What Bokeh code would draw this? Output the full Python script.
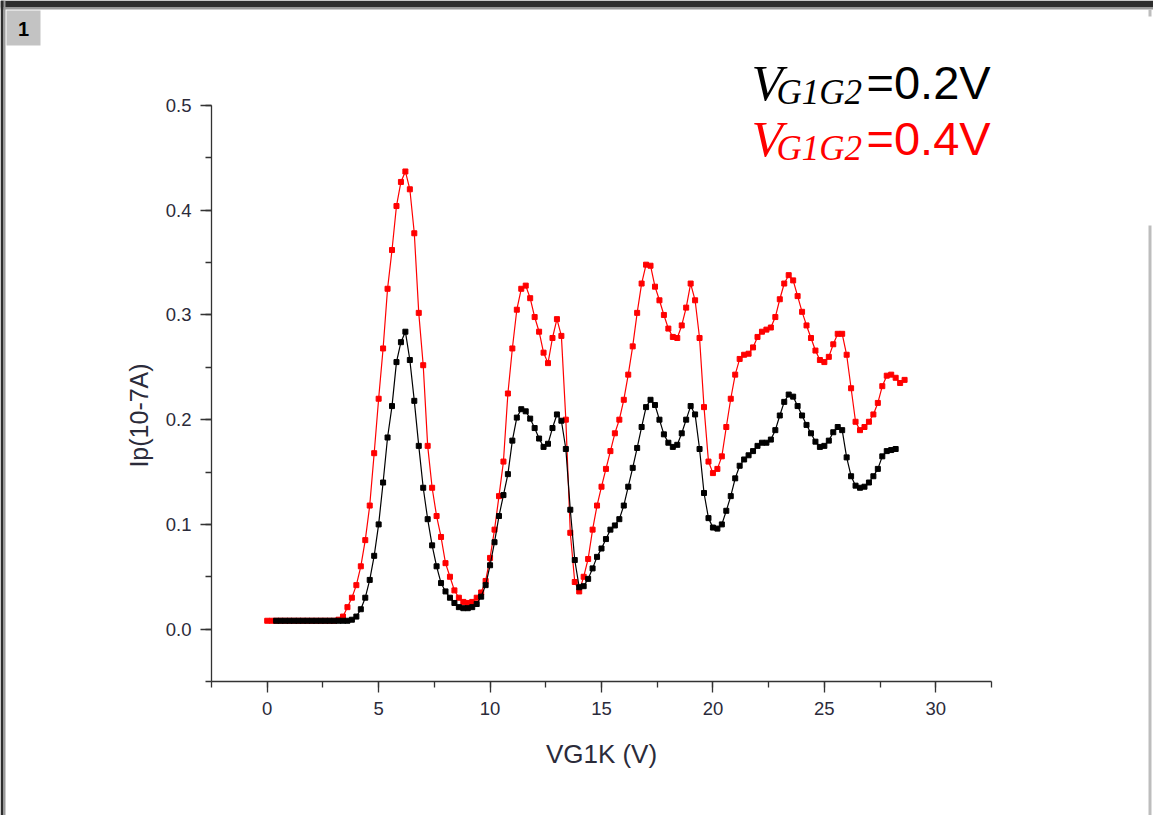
from bokeh.plotting import figure
from bokeh.models import Label, BoxAnnotation, SingleIntervalTicker, Range1d
from bokeh.embed import file_html
from bokeh.resources import INLINE
import math

# ---------------- data ----------------
# V_G1G2 = 0.4 V  (red)
red_x = [
    0.0, 0.2, 0.4, 0.6, 0.8,
    1.0, 1.2, 1.4, 1.6, 1.8,
    2.0, 2.2, 2.4, 2.6, 2.8,
    3.0, 3.2, 3.4, 3.6, 3.8,
    4.0, 4.2, 4.4, 4.6, 4.8,
    5.0, 5.2, 5.4, 5.6, 5.8,
    6.0, 6.2, 6.4, 6.6, 6.8,
    7.0, 7.2, 7.4, 7.6, 7.8,
    8.0, 8.2, 8.4, 8.6, 8.8,
    9.0, 9.2, 9.4, 9.6, 9.8,
    10.0, 10.2, 10.4, 10.6, 10.8,
    11.0, 11.2, 11.4, 11.6, 11.8,
    12.0, 12.2, 12.4, 12.6, 12.8,
    13.0, 13.2, 13.4, 13.6, 13.8,
    14.0, 14.2, 14.4, 14.6, 14.8,
    15.0, 15.2, 15.4, 15.6, 15.8,
    16.0, 16.2, 16.4, 16.6, 16.8,
    17.0, 17.2, 17.4, 17.6, 17.8,
    18.0, 18.2, 18.4, 18.6, 18.8,
    19.0, 19.2, 19.4, 19.6, 19.8,
    20.0, 20.2, 20.4, 20.6, 20.8,
    21.0, 21.2, 21.4, 21.6, 21.8,
    22.0, 22.2, 22.4, 22.6, 22.8,
    23.0, 23.2, 23.4, 23.6, 23.8,
    24.0, 24.2, 24.4, 24.6, 24.8,
    25.0, 25.2, 25.4, 25.6, 25.8,
    26.0, 26.2, 26.4, 26.6, 26.8,
    27.0, 27.2, 27.4, 27.6, 27.8,
    28.0, 28.2, 28.4, 28.6,
]
red_y = [
    0.008, 0.008, 0.008, 0.008, 0.008,
    0.008, 0.008, 0.008, 0.008, 0.008,
    0.008, 0.008, 0.008, 0.008, 0.008,
    0.008, 0.009, 0.012, 0.021, 0.030,
    0.042, 0.060, 0.085, 0.118, 0.168,
    0.220, 0.268, 0.325, 0.362, 0.404,
    0.427, 0.437, 0.420, 0.378, 0.302,
    0.252, 0.175, 0.135, 0.108, 0.088,
    0.063, 0.050, 0.037, 0.030, 0.026,
    0.025, 0.026, 0.030, 0.035, 0.046,
    0.068, 0.095, 0.127, 0.160, 0.225,
    0.268, 0.305, 0.325, 0.328, 0.316,
    0.298, 0.284, 0.264, 0.254, 0.278,
    0.296, 0.280, 0.200, 0.092, 0.045,
    0.036, 0.050, 0.067, 0.095, 0.118,
    0.136, 0.153, 0.170, 0.187, 0.200,
    0.219, 0.243, 0.270, 0.302, 0.330,
    0.348, 0.347, 0.327, 0.314, 0.300,
    0.287, 0.279, 0.278, 0.290, 0.307,
    0.330, 0.314, 0.278, 0.212, 0.160,
    0.149, 0.153, 0.165, 0.193, 0.220,
    0.243, 0.258, 0.262, 0.263, 0.269,
    0.279, 0.284, 0.286, 0.288, 0.298,
    0.315, 0.330, 0.338, 0.333, 0.318,
    0.303, 0.290, 0.278, 0.266, 0.257,
    0.255, 0.260, 0.272, 0.282, 0.282,
    0.262, 0.230, 0.198, 0.190, 0.193,
    0.198, 0.205, 0.216, 0.232, 0.242,
    0.243, 0.240, 0.235, 0.238,
]

# V_G1G2 = 0.2 V  (black)
black_x = [
    0.4, 0.6, 0.8,
    1.0, 1.2, 1.4, 1.6, 1.8,
    2.0, 2.2, 2.4, 2.6, 2.8,
    3.0, 3.2, 3.4, 3.6, 3.8,
    4.0, 4.2, 4.4, 4.6, 4.8,
    5.0, 5.2, 5.4, 5.6, 5.8,
    6.0, 6.2, 6.4, 6.6, 6.8,
    7.0, 7.2, 7.4, 7.6, 7.8,
    8.0, 8.2, 8.4, 8.6, 8.8,
    9.0, 9.2, 9.4, 9.6, 9.8,
    10.0, 10.2, 10.4, 10.6, 10.8,
    11.0, 11.2, 11.4, 11.6, 11.8,
    12.0, 12.2, 12.4, 12.6, 12.8,
    13.0, 13.2, 13.4, 13.6, 13.8,
    14.0, 14.2, 14.4, 14.6, 14.8,
    15.0, 15.2, 15.4, 15.6, 15.8,
    16.0, 16.2, 16.4, 16.6, 16.8,
    17.0, 17.2, 17.4, 17.6, 17.8,
    18.0, 18.2, 18.4, 18.6, 18.8,
    19.0, 19.2, 19.4, 19.6, 19.8,
    20.0, 20.2, 20.4, 20.6, 20.8,
    21.0, 21.2, 21.4, 21.6, 21.8,
    22.0, 22.2, 22.4, 22.6, 22.8,
    23.0, 23.2, 23.4, 23.6, 23.8,
    24.0, 24.2, 24.4, 24.6, 24.8,
    25.0, 25.2, 25.4, 25.6, 25.8,
    26.0, 26.2, 26.4, 26.6, 26.8,
    27.0, 27.2, 27.4, 27.6, 27.8,
    28.0, 28.2,
]
black_y = [
    0.008, 0.008, 0.008,
    0.008, 0.008, 0.008, 0.008, 0.008,
    0.008, 0.008, 0.008, 0.008, 0.008,
    0.008, 0.008, 0.008, 0.008, 0.009,
    0.012, 0.019, 0.030, 0.047, 0.070,
    0.100, 0.140, 0.183, 0.213, 0.255,
    0.274, 0.284, 0.257, 0.218, 0.175,
    0.135, 0.105, 0.080, 0.060, 0.044,
    0.036, 0.030, 0.025, 0.021, 0.020,
    0.020, 0.021, 0.024, 0.031, 0.042,
    0.061, 0.083, 0.108, 0.128, 0.148,
    0.180, 0.202, 0.210, 0.208, 0.201,
    0.192, 0.182, 0.174, 0.177, 0.192,
    0.205, 0.199, 0.172, 0.114, 0.066,
    0.040, 0.041, 0.048, 0.058, 0.069,
    0.077, 0.086, 0.095, 0.099, 0.105,
    0.118, 0.136, 0.154, 0.173, 0.193,
    0.212, 0.219, 0.214, 0.200, 0.186,
    0.178, 0.174, 0.176, 0.187, 0.200,
    0.213, 0.205, 0.172, 0.130, 0.106,
    0.097, 0.096, 0.100, 0.113, 0.127,
    0.144, 0.156, 0.162, 0.166, 0.170,
    0.175, 0.178, 0.178, 0.181, 0.190,
    0.204, 0.217, 0.224, 0.222, 0.213,
    0.204, 0.195, 0.187, 0.179, 0.174,
    0.175, 0.180, 0.188, 0.193, 0.190,
    0.164, 0.146, 0.137, 0.135, 0.136,
    0.140, 0.146, 0.153, 0.165, 0.170,
    0.171, 0.172,
]

x_ticks = [0, 5, 10, 15, 20, 25, 30]
y_ticks = [0.0, 0.1, 0.2, 0.3, 0.4, 0.5]
x_bounds = (-2.5, 32.5)
y_bounds = (-0.05, 0.5)
x_title = "VG1K (V)"
y_title = "Ip(10-7A)"
legend_main = "V"
legend_sub = "G1G2"
legend_vals = ["=0.2V", "=0.4V"]
legend_colors = ["black", "red"]

# ---------------- layout ----------------
W, H = 1153, 815
FL, FR, FT, FB = 211, 991, 105, 681   # where the axes box sits on the canvas

# the plotting frame covers the whole canvas; the axes are pinned at the box edges
sx = (FR - FL) / (x_bounds[1] - x_bounds[0])
sy = (FB - FT) / (y_bounds[1] - y_bounds[0])
x_rng = Range1d(x_bounds[0] - FL / sx, x_bounds[1] + (W - FR) / sx)
y_rng = Range1d(y_bounds[0] - (H - FB) / sy, y_bounds[1] + FT / sy)

p = figure(width=W, height=H, output_backend="svg", toolbar_location=None,
           x_range=x_rng, y_range=y_rng,
           min_border=0, min_border_left=0, min_border_right=0,
           min_border_top=0, min_border_bottom=0,
           background_fill_color="white", border_fill_color="white")
p.outline_line_color = None
p.xgrid.visible = False
p.ygrid.visible = False

AX = "#333333"
FONT = "Liberation Sans"
TXT = "#2b2b3a"
for ax in (p.xaxis[0], p.yaxis[0]):
    ax.axis_line_color = AX
    ax.axis_line_width = 1.3
    ax.major_tick_line_color = AX
    ax.minor_tick_line_color = AX
    ax.major_tick_line_width = 1.3
    ax.minor_tick_line_width = 1.3
    ax.major_tick_in = 0
    ax.major_tick_out = 11
    ax.minor_tick_in = 0
    ax.minor_tick_out = 6
    ax.major_label_text_font = FONT
    ax.major_label_text_font_size = "18.5px"
    ax.major_label_text_color = TXT
    ax.major_label_standoff = 9

p.xaxis[0].fixed_location = y_bounds[0]
p.yaxis[0].fixed_location = x_bounds[0]
p.xaxis[0].bounds = x_bounds
p.yaxis[0].bounds = y_bounds
p.xaxis[0].ticker = SingleIntervalTicker(interval=5, num_minor_ticks=2)
p.yaxis[0].ticker = SingleIntervalTicker(interval=0.1, num_minor_ticks=2)
p.xaxis[0].major_label_overrides = {t: str(t) for t in x_ticks}
p.yaxis[0].major_label_overrides = {t: f"{t:.1f}" for t in y_ticks}

p.xaxis[0].axis_label = x_title
p.xaxis[0].axis_label_text_font = FONT
p.xaxis[0].axis_label_text_font_style = "normal"
p.xaxis[0].axis_label_text_font_size = "26px"
p.xaxis[0].axis_label_text_color = TXT
p.xaxis[0].axis_label_standoff = 21

# y title as a rotated label (slightly below the axis centre, as in the reference)
p.add_layout(Label(x=138, y=H - 415, x_units="screen", y_units="screen",
                   text=y_title, angle=math.pi / 2, text_align="center",
                   text_baseline="middle", text_font=FONT, text_font_size="25px",
                   text_color=TXT))

# ---------------- data series ----------------
p.line(red_x, red_y, line_color="red", line_width=1.2)
p.scatter(red_x, red_y, marker="square", size=5, fill_color="red", line_color="red")
p.line(black_x, black_y, line_color="black", line_width=1.2)
p.scatter(black_x, black_y, marker="square", size=5, fill_color="black", line_color="black")

# ---------------- legend text ----------------
baselines = [82, 138]
sub_base = [92, 148]
for i in range(2):
    c = legend_colors[i]
    p.add_layout(Label(x=751, y=H - baselines[i], x_units="screen", y_units="screen",
                       text=legend_main, text_font="Liberation Serif", text_font_style="italic",
                       text_font_size="51px", text_color=c, text_baseline="alphabetic"))
    p.add_layout(Label(x=776, y=H - sub_base[i], x_units="screen", y_units="screen",
                       text=legend_sub, text_font="Liberation Serif", text_font_style="italic",
                       text_font_size="35px", text_color=c, text_baseline="alphabetic"))
    p.add_layout(Label(x=866, y=H - baselines[i], x_units="screen", y_units="screen",
                       text=legend_vals[i], text_font=FONT,
                       text_font_size="47px", text_color=c, text_baseline="alphabetic"))

# ---------------- window decorations ----------------
def sbox(l, t, r, b, color):
    p.add_layout(BoxAnnotation(left=l, right=r, top=H - t, bottom=H - b,
                               left_units="screen", right_units="screen",
                               top_units="screen", bottom_units="screen",
                               fill_color=color, fill_alpha=1.0, line_color=None,
                               level="underlay"))

sbox(0, 0, W, 7, "#2e2e2e")
sbox(0, 7, W, 9, "#9a9a9a")
sbox(0, 0, 3, H, "#2e2e2e")
sbox(3, 0, 5, H, "#9a9a9a")
sbox(1148, 225, 1151, H, "#bdbdbd")
sbox(1148, 9, 1151, 16, "#bdbdbd")
sbox(6, 10, 40, 45, "#c3c3c3")
p.add_layout(Label(x=23, y=H - 28, x_units="screen", y_units="screen",
                   text="1", text_align="center", text_baseline="middle",
                   text_font=FONT, text_font_style="bold", text_font_size="20px",
                   text_color="black"))

open("out.html", "w").write(file_html(p, INLINE))
